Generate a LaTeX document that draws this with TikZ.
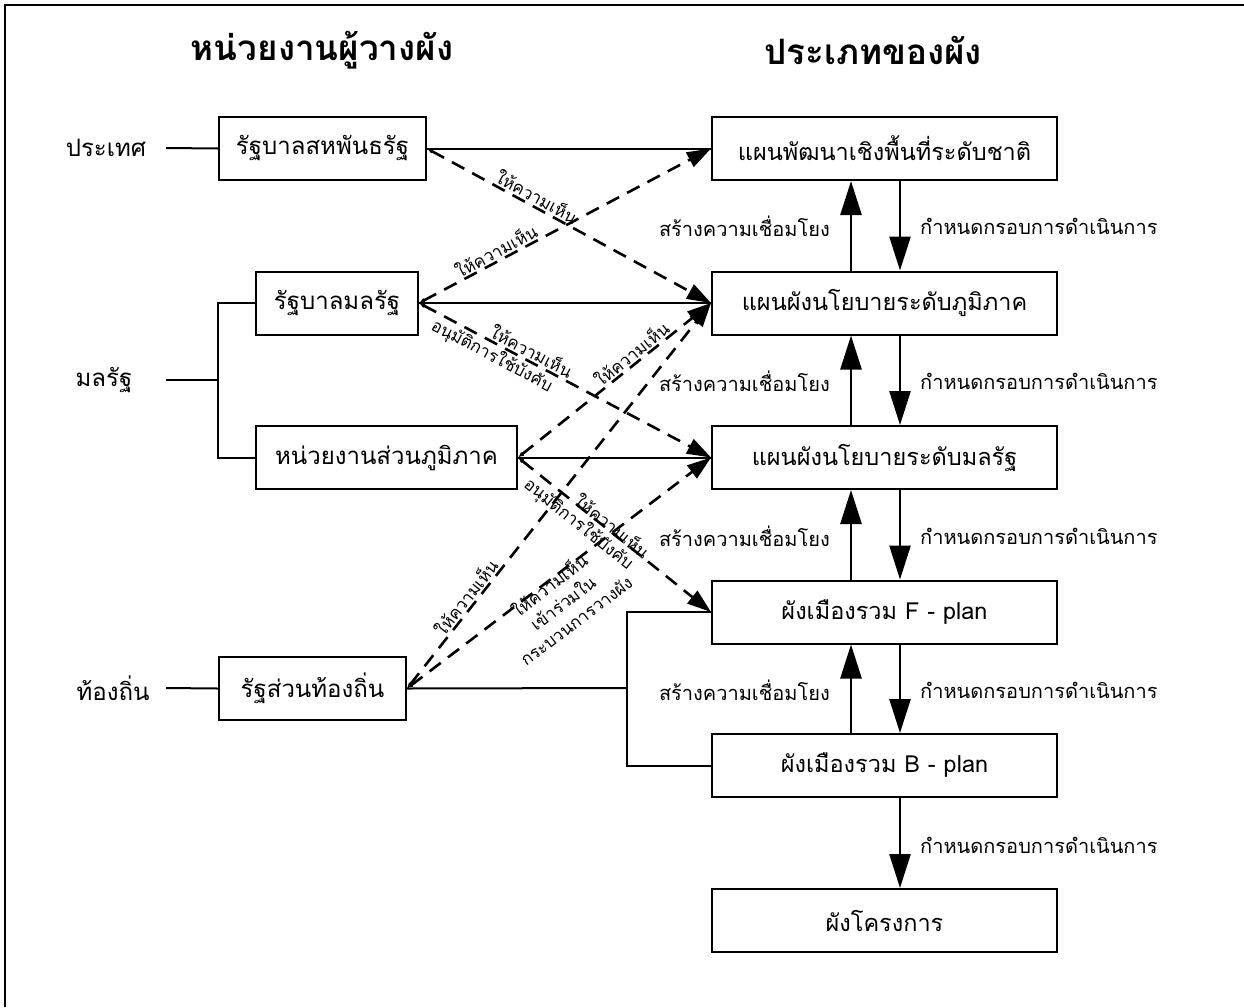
\documentclass[tikz,border=0pt]{standalone}
\usepackage{fontspec}
\setmainfont[Script=Thai]{Loma}
\usetikzlibrary{arrows.meta}
\tikzset{
  box/.style={draw, line width=2pt, minimum height=63pt, inner sep=0pt, font=\fontsize{24}{28}\selectfont},
  rbox/.style={box, minimum width=345pt, font=\fontsize{23.5}{28}\selectfont},
  side/.style={font=\fontsize{24}{28}\selectfont, inner sep=0pt},
  ttl/.style={font=\bfseries\fontsize{35}{40}\selectfont, inner sep=0pt},
  linklbl/.style={font=\fontsize{20}{24}\selectfont, inner sep=0pt},
  dlbl/.style={font=\fontsize{17}{22}\selectfont, sloped, inner sep=1.5pt, align=center},
  conn/.style={line width=2pt},
  dconn/.style={line width=2.6pt, dash pattern=on 14pt off 9pt,
     {Latex[length=6pt,width=5pt]}-{Triangle[length=24pt,width=16pt]}},
  bigarr/.style={line width=2.6pt, -{Triangle[length=34pt,width=21pt]}},
}
\begin{document}
\begin{tikzpicture}[x=1pt,y=-1pt]
\useasboundingbox (0,0) rectangle (1244,1007);
\draw[line width=2.5pt] (5,1007) -- (5,5) -- (1244,5);

% titles
\node[ttl] (t1) at (322,50) {หน่วยงานผู้วางผัง};
\node[ttl] (t2) at (873,50) {ประเภทของผัง};

% left side labels
\node[side] (l1) at (106,148) {ประเทศ};
\node[side] (l2) at (104,380) {มลรัฐ};
\node[side] (l3) at (113,688) {ท้องถิ่น};

% left boxes
\node[box, minimum width=207pt] (fed) at (322.5,148.5) {รัฐบาลสหพันธรัฐ};
\node[box, minimum width=162pt] (st)  at (337,303) {รัฐบาลมลรัฐ};
\node[box, minimum width=261pt] (reg) at (386.5,457.5) {หน่วยงานส่วนภูมิภาค};
\node[box, minimum width=187pt] (loc) at (312.5,688.5) {รัฐส่วนท้องถิ่น};

% right boxes
\node[rbox] (p1) at (884.5,148.5) {แผนพัฒนาเชิงพื้นที่ระดับชาติ};
\node[rbox] (p2) at (884.5,303) {แผนผังนโยบายระดับภูมิภาค};
\node[rbox] (p3) at (884.5,457.5) {แผนผังนโยบายระดับมลรัฐ};
\node[rbox] (p4) at (884.5,612) {ผังเมืองรวม F - plan};
\node[rbox] (p5) at (884.5,765.5) {ผังเมืองรวม B - plan};
\node[rbox] (p6) at (884.5,920.5) {ผังโครงการ};

% left connectors
\coordinate (jn) at (218,380);
\coordinate (jl) at (627,688);
\coordinate (e1) at (166,148);
\coordinate (e2) at (166,380);
\coordinate (e3) at (166,688);
\draw[conn] (e1) -- (fed.west);
\draw[conn] (e2) -- (jn);
\draw[conn] (st.west) -| (jn) |- (reg.west);
\draw[conn] (e3) -- (loc.west);

% solid horizontal connectors
\draw[conn] (fed.east) -- (p1.west);
\draw[conn] (st.east) -- (p2.west);
\draw[conn] (reg.east) -- (p3.west);
\draw[conn] (loc.east) -- (jl);
\draw[conn] (p4.west) -| (jl) |- (p5.west);

% vertical arrows
\foreach \a/\b in {p2/p1, p3/p2, p4/p3, p5/p4}{
  \draw[bigarr] ([xshift=-33.5pt]\a.north) -- ([xshift=-33.5pt]\b.south);
}
\foreach \a/\b in {p1/p2, p2/p3, p3/p4, p4/p5, p5/p6}{
  \draw[bigarr] ([xshift=15.5pt]\a.south) -- ([xshift=15.5pt]\b.north);
}
\node[linklbl, anchor=east] (u1) at (830,226) {สร้างความเชื่อมโยง};
\node[linklbl, anchor=east] (u2) at (830,381) {สร้างความเชื่อมโยง};
\node[linklbl, anchor=east] (u3) at (830,536) {สร้างความเชื่อมโยง};
\node[linklbl, anchor=east] (u4) at (830,690) {สร้างความเชื่อมโยง};
\node[linklbl, anchor=west] (d1) at (920,226) {กำหนดกรอบการดำเนินการ};
\node[linklbl, anchor=west] (d2) at (920,381) {กำหนดกรอบการดำเนินการ};
\node[linklbl, anchor=west] (d3) at (920,536) {กำหนดกรอบการดำเนินการ};
\node[linklbl, anchor=west] (d4) at (920,690) {กำหนดกรอบการดำเนินการ};
\node[linklbl, anchor=west] (d5) at (920,845) {กำหนดกรอบการดำเนินการ};

% dashed connectors
\draw[dconn] (fed.east) -- node[dlbl, pos=0.37, above] (la) {ให้ความเห็น} (p2.west);
\draw[dconn] (st.east) -- node[dlbl, pos=0.28, above] (lb) {ให้ความเห็น} (p1.west);
\draw[dconn] (st.east) -- node[dlbl, pos=0.37, above] (lc1) {ให้ความเห็น}
                          node[dlbl, pos=0.27, below] (lc2) {อนุมัติการใช้บังคับ} (p3.west);
\draw[dconn] (reg.east) -- node[dlbl, pos=0.62, above] (ld) {ให้ความเห็น} (p2.west);
\draw[dconn] (reg.east) -- node[dlbl, pos=0.47, above, inner sep=0pt, yshift=-3pt] (le1) {ให้ความเห็น}
                           node[dlbl, pos=0.36, below, inner sep=3pt] (le2) {อนุมัติการใช้บังคับ} (p4.west);
\draw[dconn] (loc.east) -- node[dlbl, pos=0.22, above] (lf) {ให้ความเห็น} (p2.west);
\draw[dconn] (loc.east) -- node[dlbl, pos=0.46, below, inner sep=0pt, yshift=6pt] (lg) {ให้ความเห็น\\เข้าร่วมใน\\กระบวนการวางผัง} (p3.west);
\end{tikzpicture}
\end{document}
